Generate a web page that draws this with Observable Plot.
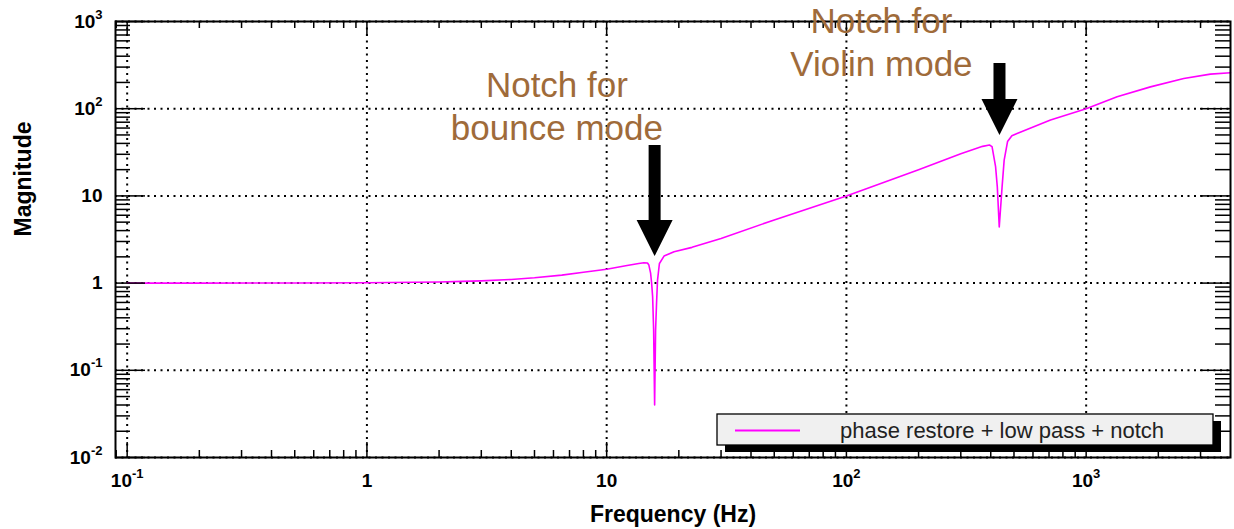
<!DOCTYPE html>
<html><head><meta charset="utf-8">
<script src="https://cdn.jsdelivr.net/npm/d3@7"></script>
<script src="https://cdn.jsdelivr.net/npm/@observablehq/plot@0.6"></script>
<style>
html,body{margin:0;padding:0;background:#fff;}
#chart{position:relative;width:1234px;height:529px;}
#chart svg{font-family:"Liberation Sans",Arial,Helvetica,sans-serif;}
</style></head><body><div id="chart"></div>
<script>
// ---- data ----
const freqHz = [0.1, 0.2, 0.5, 1, 2, 2.5, 3, 4, 5, 6.5, 8, 10, 12, 13.6, 14.3, 14.8, 15.0, 15.25, 15.4, 15.55, 15.7, 15.85, 16.0, 16.15, 16.3, 16.6, 17.35, 19.1, 22.7, 30, 50, 100, 200, 300, 370, 395, 405, 419, 426, 434, 446, 455, 470, 490, 515, 710, 1000, 1346, 1854, 2553, 3297, 4000];
const magnitude = [1.0, 1.0, 1.002, 1.01, 1.03, 1.046, 1.06, 1.10, 1.15, 1.235, 1.33, 1.44, 1.58, 1.68, 1.71, 1.70, 1.61, 1.30, 1.0, 0.70, 0.29, 0.04, 0.29, 0.60, 1.08, 1.68, 2.04, 2.29, 2.57, 3.25, 5.3, 10.0, 20.0, 30.5, 37.0, 38.3, 36.7, 21.6, 12.7, 4.4, 12.7, 25.7, 42, 49, 52, 74, 100, 137, 178, 222, 249, 258];
const seriesName = "phase restore + low pass + notch";

const xDomain = [0.0894, 4000];
const yDomain = [0.01, 1000];
const xMajorTicks = [0.1, 1, 10, 100, 1000];
const xMajorLabels = ["10^-1", "1", "10", "10^2", "10^3"];
const yMajorTicks = [0.01, 0.1, 1, 10, 100, 1000];
const yMajorLabels = ["10^-2", "10^-1", "1", "10", "10^2", "10^3"];
const xTitle = "Frequency (Hz)";
const yTitle = "Magnitude";

const noteTexts = ["Notch for\nbounce mode", "Notch for\nViolin mode"];
const noteFreq = [6.2, 140];
const noteMag = [43.6, 236.7];
const arrowFreq = [15.85, 435];
const arrowMag = [2.04, 49.8];
const arrowLen = [111, 72];

// ---- build ----
function minorTicks([lo, hi]) {
  const out = [];
  for (let e = Math.floor(Math.log10(lo)); e <= Math.ceil(Math.log10(hi)); e++)
    for (let k = 2; k <= 9; k++) { const v = k * 10 ** e; if (v > lo && v < hi) out.push(v); }
  return out;
}
const xMinorTicks = minorTicks(xDomain);
const yMinorTicks = minorTicks(yDomain);

const curve = freqHz.map((f, i) => ({f, m: magnitude[i]}));
const notes = noteTexts.map((t, i) => ({t, f: noteFreq[i], m: noteMag[i]}));
const arrows = arrowFreq.map((f, i) => ({f, m: arrowMag[i], len: arrowLen[i]}));

const W = 1234, H = 529, mL = 115, mR = 4, mT = 21, mB = 72;
const iW = W - mL - mR, iH = H - mT - mB;

const blockArrow = {
  draw(ctx, l) {
    const hh = 36, hw = 18, sw = 6;
    ctx.moveTo(-sw, -l); ctx.lineTo(sw, -l); ctx.lineTo(sw, -hh); ctx.lineTo(hw, -hh);
    ctx.lineTo(0, 0); ctx.lineTo(-hw, -hh); ctx.lineTo(-sw, -hh); ctx.closePath();
  }
};

const grid = {stroke: "black", strokeOpacity: 1, strokeWidth: 2, strokeDasharray: "2,4.5"};
const tk = {stroke: "black", strokeWidth: 1.5};
const fmtX = d => xMajorLabels[xMajorTicks.indexOf(d)];
const fmtY = d => yMajorLabels[yMajorTicks.indexOf(d)];

const plot = Plot.plot({
  width: W, height: H,
  marginLeft: mL, marginRight: mR, marginTop: mT, marginBottom: mB,
  x: {type: "log", domain: xDomain},
  y: {type: "log", domain: yDomain},
  marks: [
    Plot.gridX(xMajorTicks, grid),
    Plot.gridY(yMajorTicks, grid),
    Plot.line(curve, {x: "f", y: "m", stroke: "#ff00ff", strokeWidth: 1.6}),
    Plot.frame({stroke: "black", strokeWidth: 2}),
    Plot.tickX(xMajorTicks, {x: d => d, insetTop: iH - 15, ...tk}),
    Plot.tickX(xMajorTicks, {x: d => d, insetBottom: iH - 15, ...tk}),
    Plot.tickX(xMinorTicks, {x: d => d, insetTop: iH - 7, ...tk}),
    Plot.tickX(xMinorTicks, {x: d => d, insetBottom: iH - 7, ...tk}),
    Plot.tickY(yMajorTicks, {y: d => d, insetRight: iW - 30, ...tk}),
    Plot.tickY(yMajorTicks, {y: d => d, insetLeft: iW - 30, ...tk}),
    Plot.tickY(yMinorTicks, {y: d => d, insetRight: iW - 15, ...tk}),
    Plot.tickY(yMinorTicks, {y: d => d, insetLeft: iW - 15, ...tk}),
    Plot.axisX(xMajorTicks, {tickSize: 0, tickPadding: 16, tickFormat: fmtX, label: null, fontSize: 19, fontWeight: "bold", fill: "black"}),
    Plot.axisY(yMajorTicks, {tickSize: 0, tickPadding: 13, tickFormat: fmtY, label: null, fontSize: 19, fontWeight: "bold", fill: "black"}),
    Plot.text([xTitle], {frameAnchor: "bottom", dy: 64.5, lineAnchor: "bottom", fontSize: 23, fontWeight: "bold", fill: "black"}),
    Plot.text([yTitle], {frameAnchor: "left", dx: -92, dy: -3, rotate: -90, fontSize: 23, fontWeight: "bold", fill: "black"}),
    Plot.vector([arrows[0]], {x: "f", y: "m", length: arrows[0].len, anchor: "start", shape: blockArrow, fill: "black", stroke: "none"}),
    Plot.vector([arrows[1]], {x: "f", y: "m", length: arrows[1].len, anchor: "start", shape: blockArrow, fill: "black", stroke: "none"}),
    Plot.text(notes, {x: "f", y: "m", text: "t", fill: "#9f6b3a", fontSize: 35, lineAnchor: "bottom", lineHeight: 1.23, ariaLabel: "notch-note"})
  ]
});
document.getElementById("chart").append(plot);

const NS = "http://www.w3.org/2000/svg";
// superscripts in tick labels
plot.querySelectorAll('g[aria-label="x-axis tick label"] text, g[aria-label="y-axis tick label"] text').forEach(t => {
  const s = t.textContent, k = s.indexOf("^");
  if (k < 0) return;
  t.textContent = "";
  const a = document.createElementNS(NS, "tspan"); a.textContent = s.slice(0, k);
  const b = document.createElementNS(NS, "tspan"); b.textContent = s.slice(k + 1);
  b.setAttribute("font-size", "13"); b.setAttribute("dy", "-9");
  t.append(a, b);
});
// white boxes behind annotation text
plot.querySelectorAll('g[aria-label="notch-note"] text').forEach(t => {
  const bb = t.getBBox();
  const r = document.createElementNS(NS, "rect");
  r.setAttribute("x", bb.x - 6); r.setAttribute("y", bb.y - 7);
  r.setAttribute("width", bb.width + 12); r.setAttribute("height", bb.height + 7);
  r.setAttribute("fill", "white");
  if (t.getAttribute("transform")) r.setAttribute("transform", t.getAttribute("transform"));
  t.parentNode.insertBefore(r, t);
});
// legend
{
  const fx2 = W - mR, fy2 = H - mB;
  const lw = 496, lh = 31, x0 = fx2 - 17 - lw, y0 = fy2 - 12 - lh;
  const g = document.createElementNS(NS, "g");
  g.innerHTML = `<rect x="${x0 + 8}" y="${y0 + 7}" width="${lw}" height="${lh}" fill="black"/>
    <rect x="${x0}" y="${y0}" width="${lw}" height="${lh}" fill="#f0f0f0" stroke="black" stroke-width="1.3"/>
    <line x1="${x0 + 18}" x2="${x0 + 83}" y1="${y0 + 16.5}" y2="${y0 + 16.5}" stroke="#ff00ff" stroke-width="2"/>
    <text x="${x0 + 123}" y="${y0 + 23.5}" font-size="22" fill="#222" text-anchor="start"></text>`;
  g.querySelector("text").textContent = seriesName;
  plot.append(g);
}
</script></body></html>
